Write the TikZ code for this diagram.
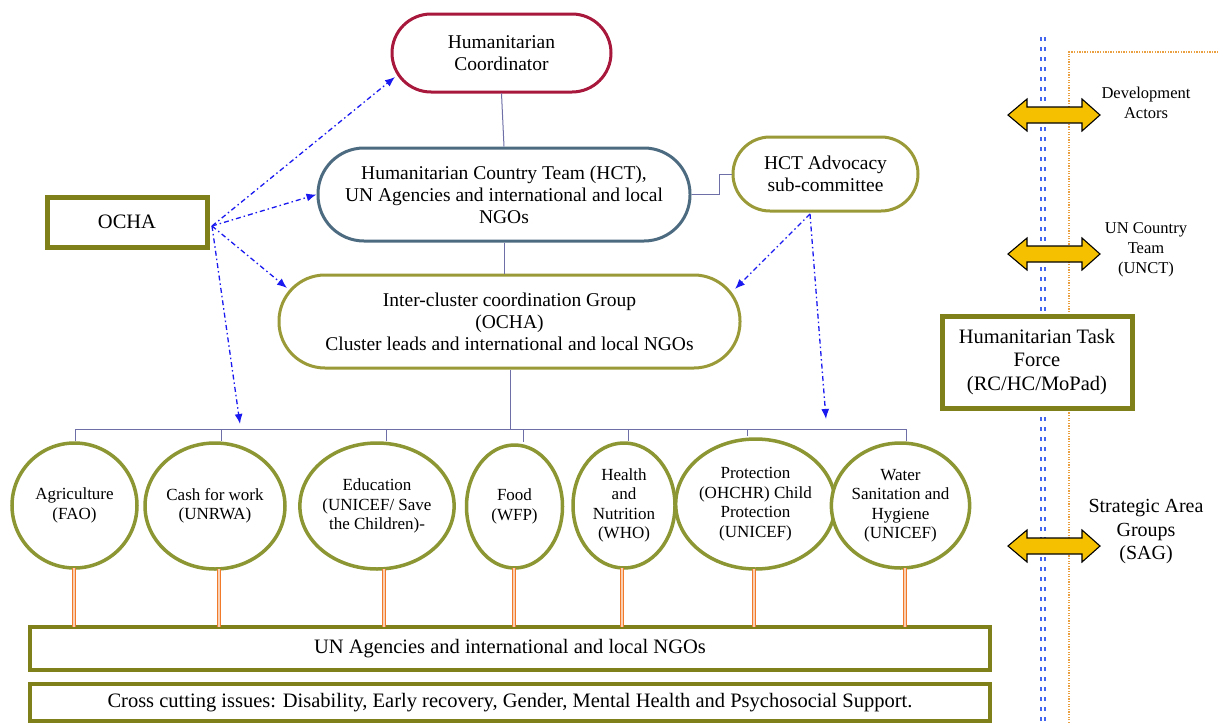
\documentclass[tikz,border=0pt]{standalone}
\usepackage{fontspec}
\setmainfont{Liberation Serif}
\usetikzlibrary{arrows.meta,shapes.geometric}
\definecolor{hcred}{HTML}{A8173C}
\definecolor{hctblue}{HTML}{4D6B80}
\definecolor{olivel}{HTML}{9A9A38}
\definecolor{oliveb}{HTML}{80801A}
\definecolor{circol}{HTML}{8C9633}
\definecolor{treeline}{HTML}{6F6FA8}
\definecolor{arrblue}{HTML}{1A1AF0}
\definecolor{dotblue}{HTML}{4466EE}
\definecolor{dotorange}{HTML}{EAA040}
\definecolor{pipeor}{HTML}{F07A2A}
\definecolor{goldfill}{HTML}{F5C000}
\begin{document}
\begin{tikzpicture}[x=1pt,y=-1pt,
  stadium/.style={draw, line width=3pt, align=center, fill=white, inner sep=0pt,
    font=\fontsize{19.5}{22}\selectfont},
  thickbox/.style={draw=oliveb, line width=5pt, align=center, fill=white, inner sep=0pt},
  cluster/.style={ellipse, draw=circol, line width=3.5pt, align=center, fill=white, inner sep=0pt,
    font=\fontsize{17}{19.5}\selectfont},
  treeln/.style={draw=treeline, line width=1pt},
  pipe/.style={draw=pipeor, line width=1pt, double=pipeor!35, double distance=2pt},
  dashdotarrow/.style={draw=arrblue, line width=1.3pt, dash pattern=on 5pt off 3pt on 1.5pt off 3pt,
    -{Latex[length=10pt,width=8pt]}},
  sidelabel/.style={align=center, inner sep=0pt},
  goldarrow/.style={draw=black, line width=1.1pt, fill=goldfill, line join=miter}
]
\useasboundingbox (0,0) rectangle (1219,723);

% right-side separators
\coordinate (sepA) at (1043,37);
\coordinate (sepB) at (1043,723);
\draw[dotblue, line width=2.2pt, dash pattern=on 3.5pt off 6.5pt] ([xshift=-1.7pt]sepA) -- ([xshift=-1.7pt]sepB);
\draw[dotblue, line width=2.2pt, dash pattern=on 3.5pt off 6.5pt] ([xshift=1.7pt]sepA) -- ([xshift=1.7pt]sepB);
\coordinate (frA) at (1069,723);
\coordinate (frB) at (1069,52);
\coordinate (frC) at (1219,52);
\draw[dotorange, line width=1.3pt, dash pattern=on 1.3pt off 1.3pt] (frA) -- (frB) -- (frC);

% top nodes
\node[stadium, draw=hcred, minimum width=219, minimum height=78, rounded corners=39] (hc) at (501.5,53) {Humanitarian\\Coordinator};
\node[stadium, draw=hctblue, minimum width=372, minimum height=93, rounded corners=46] (hct) at (504,194.5)
  {Humanitarian Country Team (HCT),\\UN Agencies and international and local\\NGOs};
\node[stadium, draw=olivel, minimum width=185, minimum height=74, rounded corners=37] (adv) at (825.5,174)
  {HCT Advocacy\\sub-committee};
\node[stadium, draw=olivel, minimum width=461, minimum height=93, rounded corners=46] (icg) at (509.5,321.5)
  {Inter-cluster coordination Group\\(OCHA)\\Cluster leads and international and local NGOs};
\node[thickbox, minimum width=160, minimum height=50, font=\fontsize{20.5}{22}\selectfont] (ocha) at (127,222) {OCHA};

% clusters
\node[cluster, minimum width=125, minimum height=125] (agr) at (74.5,505.5) {Agriculture\\(FAO)};
\node[cluster, minimum width=140, minimum height=126] (cash) at (215,506) {Cash for work\\(UNRWA)};
\node[cluster, minimum width=148, minimum height=126] (edu) at (377,506) {Education\\(UNICEF/ Save\\the Children)-};
\node[cluster, minimum width=96, minimum height=123] (food) at (514.5,506.5) {Food\\(WFP)};
\node[cluster, minimum width=102, minimum height=125] (hea) at (624,505.5) {Health\\and\\Nutrition\\(WHO)};
\node[cluster, minimum width=146, minimum height=130] (pro) at (755.5,504) {Protection\\(OHCHR) Child\\Protection\\(UNICEF)};
\node[cluster, minimum width=124, minimum height=125] (wat) at (900.5,505.5) {Water\\Sanitation and\\Hygiene\\(UNICEF)};

% bottom boxes
\node[draw=oliveb, line width=4pt, fill=white, minimum width=960, minimum height=43, inner sep=0pt,
  font=\fontsize{20.5}{22}\selectfont] (un) at (510,648.5) {UN Agencies and international and local NGOs};
\node[draw=oliveb, line width=4pt, fill=white, minimum width=960, minimum height=37, inner sep=0pt,
  font=\fontsize{20.5}{22}\selectfont] (cross) at (510,702.5)
  {Cross cutting issues: Disability, Early recovery, Gender, Mental Health and Psychosocial Support.};

% task force
\node[thickbox, minimum width=190, minimum height=92, font=\fontsize{20.5}{23.5}\selectfont] (htf) at (1037,362)
  {Humanitarian Task\\Force\\(RC/HC/MoPad)};

% side labels
\node[sidelabel, font=\fontsize{16.5}{20}\selectfont] (dev) at (1146,103) {Development\\Actors};
\node[sidelabel, font=\fontsize{16.5}{20}\selectfont] (unct) at (1146,250) {UN Country\\Team\\(UNCT)};
\node[sidelabel, font=\fontsize{20}{23.5}\selectfont] (sag) at (1146,532) {Strategic Area\\Groups\\(SAG)};

% gold double arrows
\foreach \yc/\nm in {115/ga1, 254/ga2, 546/ga3}{
  \coordinate (\nm) at (1008,\yc);
  \draw[goldarrow] (\nm) -- ++(19,-16) -- ++(0,8) -- ++(55,0) -- ++(0,-8) -- ++(18,16)
    -- ++(-18,16) -- ++(0,-8) -- ++(-55,0) -- ++(0,8) -- cycle;
}

% vertical hierarchy lines
\draw[treeln] (hc.south) -- (hct.north);
\draw[treeln] (hct.south) -- (hct.south |- icg.north);
\draw[treeln] (hct.east) -- ++(28,0) |- (adv.west);
\coordinate (bus) at (510,429);
\draw[treeln] (icg.south -| bus) -- (bus);
\coordinate (t1) at (75,429);
\coordinate (t2) at (221,429);
\coordinate (t3) at (386,429);
\coordinate (t4) at (523,429);
\coordinate (t5) at (628,429);
\coordinate (t6) at (747,429);
\coordinate (t7) at (906,429);
\draw[treeln] (t1) -- (t7);
\draw[treeln] (t1) -- (t1 |- agr.north);
\draw[treeln] (t2) -- (t2 |- cash.north);
\draw[treeln] (t3) -- ([yshift=0.5pt]t3 |- edu.north);
\draw[treeln] (t4) -- ([yshift=1pt]t4 |- food.north);
\draw[treeln] (t5) -- (t5 |- hea.north);
\draw[treeln] (t6) -- ([yshift=1pt]t6 |- pro.north);
\draw[treeln] (t7) -- (t7 |- wat.north);

% orange pipes
\coordinate (p1) at (74,0);
\coordinate (p2) at (219,0);
\coordinate (p3) at (384,0);
\coordinate (p4) at (514,0);
\coordinate (p5) at (622,0);
\coordinate (p6) at (754,0);
\coordinate (p7) at (905,0);
\draw[pipe] ([yshift=2pt]p1 |- agr.south) -- ([yshift=-2pt]p1 |- un.north);
\draw[pipe] ([yshift=2pt]p2 |- cash.south) -- ([yshift=-2pt]p2 |- un.north);
\draw[pipe] ([yshift=2pt]p3 |- edu.south) -- ([yshift=-2pt]p3 |- un.north);
\draw[pipe] ([yshift=2pt]p4 |- food.south) -- ([yshift=-2pt]p4 |- un.north);
\draw[pipe] ([yshift=2pt]p5 |- hea.south) -- ([yshift=-2pt]p5 |- un.north);
\draw[pipe] ([yshift=2pt]p6 |- pro.south) -- ([yshift=-2pt]p6 |- un.north);
\draw[pipe] ([yshift=2pt]p7 |- wat.south) -- ([yshift=-2pt]p7 |- un.north);

% blue dash-dot arrows
\coordinate (ochaout) at (212,226);
\coordinate (hcin) at (395,77);
\coordinate (icgin) at (287,288);
\coordinate (clin) at (240,424);
\draw[dashdotarrow] (ochaout) -- (hcin);
\draw[dashdotarrow] (ochaout) -- (hct.west);
\draw[dashdotarrow] (ochaout) -- (icgin);
\draw[dashdotarrow] (ochaout) -- (clin);
\coordinate (advout) at (810,214);
\coordinate (icgin2) at (735,289);
\coordinate (clin2) at (826,419);
\draw[dashdotarrow] (advout) -- (icgin2);
\draw[dashdotarrow] (advout) -- (clin2);
\end{tikzpicture}
\end{document}
